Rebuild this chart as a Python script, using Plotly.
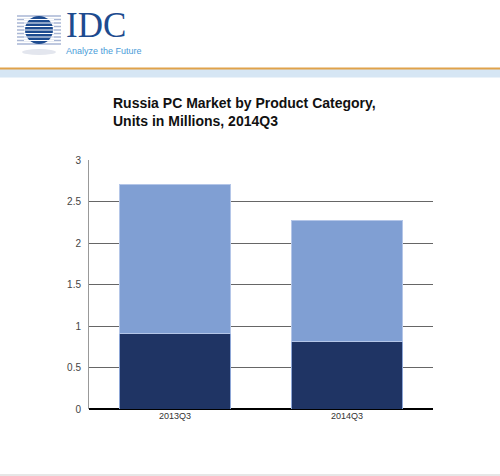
import plotly.graph_objects as go

## Chart data
quarters = ['2013Q3', '2014Q3']
lower_units = [0.91, 0.81]   # dark segment
upper_units = [1.80, 1.46]   # light segment
y_ticks = [0, 0.5, 1, 1.5, 2, 2.5, 3]

title = 'Russia PC Market by Product Category,<br>Units in Millions, 2014Q3'

W, H = 500, 476
L, R, T, B = 89, 67, 160, 67


def px(x):
    return (x - L) / (W - L - R)


def py(y):
    return (H - B - y) / (H - T - B)


fig = go.Figure()
fig.add_trace(go.Bar(x=quarters, y=lower_units, marker=dict(color='#1f3464', line=dict(color='#8da6d6', width=1)),
                     showlegend=False, hoverinfo='y'))
fig.add_trace(go.Bar(x=quarters, y=upper_units, marker=dict(color='#809fd3', line=dict(color='#b4c6e8', width=1)),
                     showlegend=False, hoverinfo='y'))

shapes = []
# header stripe
shapes.append(dict(type='rect', xref='paper', yref='paper', x0=px(0), x1=px(W), y0=py(77.5), y1=py(69),
                   fillcolor='#d6e6f4', line=dict(width=0), layer='below'))
shapes.append(dict(type='line', xref='paper', yref='paper', x0=px(0), x1=px(W), y0=py(68.5), y1=py(68.5),
                   line=dict(color='#e0a24a', width=2)))
# bottom rule
shapes.append(dict(type='line', xref='paper', yref='paper', x0=px(0), x1=px(W), y0=py(475), y1=py(475),
                   line=dict(color='#e6e6e6', width=2)))

# logo: striped globe
for sy in [16, 19.5, 23, 26.5, 30, 33.5, 37, 40.5, 44]:
    shapes.append(dict(type='line', xref='paper', yref='paper', x0=px(17), x1=px(61), y0=py(sy), y1=py(sy),
                       line=dict(color='#a9b6d4', width=1.5)))
shapes.append(dict(type='circle', xref='paper', yref='paper', x0=px(25), x1=px(53), y0=py(44), y1=py(16),
                   fillcolor='#1d4b8f', line=dict(width=0)))
for sy in [19.5, 23, 26.5, 30, 33.5, 37, 40.5]:
    shapes.append(dict(type='line', xref='paper', yref='paper', x0=px(24), x1=px(54), y0=py(sy), y1=py(sy),
                       line=dict(color='white', width=1)))
shapes.append(dict(type='circle', xref='paper', yref='paper', x0=px(22), x1=px(56), y0=py(55), y1=py(49),
                   fillcolor='#e3e6ee', line=dict(width=0), layer='below'))

annotations = [
    dict(text='IDC', x=px(64), y=py(25.5), xref='paper', yref='paper', xanchor='left', yanchor='middle',
         showarrow=False, font=dict(family='Liberation Serif', size=35, color='#1d4b8f')),
    dict(text='Analyze the Future', x=px(64), y=py(51), xref='paper', yref='paper', xanchor='left', yanchor='middle',
         showarrow=False, font=dict(family='Liberation Sans', size=9, color='#4a9bd8')),
    dict(text='<b>' + title + '</b>', x=px(111), y=py(112), xref='paper', yref='paper', xanchor='left',
         yanchor='middle', align='left', showarrow=False,
         font=dict(family='Liberation Sans', size=14, color='#111111')),
]

fig.update_layout(
    width=W, height=H,
    margin=dict(l=L, r=R, t=T, b=B),
    barmode='stack', bargap=0.35,
    plot_bgcolor='white', paper_bgcolor='white',
    shapes=shapes, annotations=annotations,
    font=dict(family='Liberation Sans', color='#444444'),
    xaxis=dict(showgrid=False, tickfont=dict(size=9, color='#333333'), ticks='', showline=False),
    yaxis=dict(range=[0, 3], tickvals=y_ticks, ticktext=[str(v) for v in y_ticks],
               showgrid=True, gridcolor='#666666', gridwidth=1, tickfont=dict(size=10, color='#444444'),
               showline=True, linecolor='#999999', linewidth=1, zeroline=True, zerolinecolor='#000000',
               zerolinewidth=1.5, ticks='', ticklen=0, ticklabelstandoff=5),
)

# drop the default page margin so the figure sits at the window's corner
fig.write_html('out.html', config={'displayModeBar': False},
               post_script="document.body.style.margin='0';")
